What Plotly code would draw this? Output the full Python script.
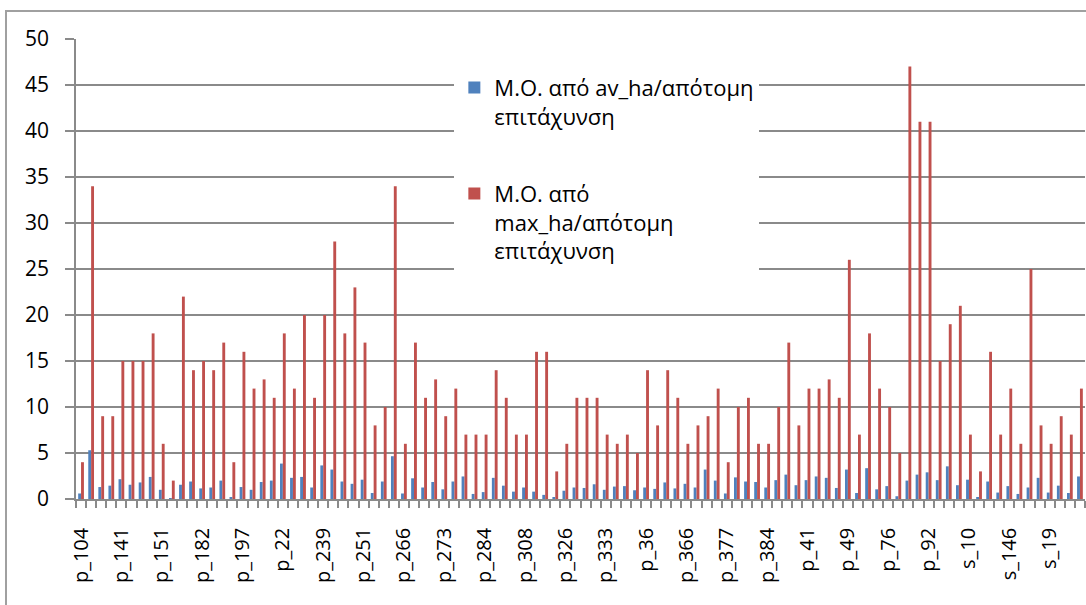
import plotly.graph_objects as go

categories = [
    "p_104", "p_107", "p_11", "p_13",
    "p_141", "p_143", "p_145", "p_148",
    "p_151", "p_155", "p_16", "p_18",
    "p_182", "p_185", "p_19", "p_194",
    "p_197", "p_2", "p_20", "p_21",
    "p_22", "p_224", "p_23", "p_237",
    "p_239", "p_24", "p_245", "p_249",
    "p_251", "p_253", "p_26", "p_262",
    "p_266", "p_268", "p_27", "p_270",
    "p_273", "p_275", "p_279", "p_28",
    "p_284", "p_29", "p_3", "p_30",
    "p_308", "p_31", "p_316", "p_32",
    "p_326", "p_328", "p_33", "p_331",
    "p_333", "p_339", "p_34", "p_35",
    "p_36", "p_360", "p_362", "p_364",
    "p_366", "p_37", "p_372", "p_375",
    "p_377", "p_379", "p_38", "p_382",
    "p_384", "p_39", "p_4", "p_40",
    "p_41", "p_42", "p_45", "p_47",
    "p_49", "p_5", "p_56", "p_6",
    "p_76", "p_8", "p_82", "p_9",
    "p_92", "p_94", "p_95", "p_98",
    "s_10", "s_11", "s_12", "s_14",
    "s_146", "s_15", "s_16", "s_18",
    "s_19", "s_2", "s_3", "s_5",
]

av_ha = [
    0.6, 5.3, 1.3, 1.45, 2.15, 1.55, 1.8, 2.4, 1.0, 0.05,
    1.55, 1.9, 1.15, 1.25, 2.0, 0.15, 1.3, 1.0, 1.85, 2.0,
    3.85, 2.3, 2.4, 1.25, 3.65, 3.2, 1.9, 1.65, 2.1, 0.65,
    1.9, 4.65, 0.6, 2.25, 1.25, 1.85, 1.05, 1.9, 2.45, 0.55,
    0.75, 2.3, 1.45, 0.8, 1.25, 0.8, 0.45, 0.2, 0.9, 1.25,
    1.2, 1.6, 1.0, 1.35, 1.4, 0.95, 1.25, 1.1, 1.8, 1.15,
    1.65, 1.25, 3.2, 2.0, 0.6, 2.35, 1.9, 1.85, 1.25, 2.05,
    2.65, 1.5, 2.05, 2.45, 2.3, 1.2, 3.2, 0.65, 3.35, 1.05,
    1.4, 0.3, 2.0, 2.65, 2.9, 2.05, 3.55, 1.5, 2.1, 0.2,
    1.9, 0.7, 1.4, 0.55, 1.25, 2.3, 0.7, 1.45, 0.65, 2.45,
]

max_ha = [
    4, 34, 9, 9, 15, 15, 15, 18, 6, 2,
    22, 14, 15, 14, 17, 4, 16, 12, 13, 11,
    18, 12, 20, 11, 20, 28, 18, 23, 17, 8,
    10, 34, 6, 17, 11, 13, 9, 12, 7, 7,
    7, 14, 11, 7, 7, 16, 16, 3, 6, 11,
    11, 11, 7, 6, 7, 5, 14, 8, 14, 11,
    6, 8, 9, 12, 4, 10, 11, 6, 6, 10,
    17, 8, 12, 12, 13, 11, 26, 7, 18, 12,
    10, 5, 47, 41, 41, 15, 19, 21, 7, 3,
    16, 7, 12, 6, 25, 8, 6, 9, 7, 12,
]

series_names = [
    "Μ.Ο. από av_ha/απότομη<br>επιτάχυνση",
    "Μ.Ο. από<br>max_ha/απότομη<br>επιτάχυνση",
]
y_ticks = [0, 5, 10, 15, 20, 25, 30, 35, 40, 45, 50]
tick_text = [c if i % 4 == 0 else "" for i, c in enumerate(categories)]

FONT = "Open Sans"
GRID = "#8a8a8a"
FRAME = "#a0a0a0"

fig = go.Figure()
fig.add_bar(x=categories, y=av_ha, name=series_names[0],
            marker=dict(color="#4F81BD", line=dict(width=0)), legendgroup="a")
fig.add_bar(x=categories, y=max_ha, name=series_names[1],
            marker=dict(color="#C0504D", line=dict(width=0)), legendgroup="b")
# empty helper trace so that the full-paper frame subplot (x2/y2) gets drawn
fig.add_scatter(x=[], y=[], xaxis="x2", yaxis="y2", showlegend=False,
                hoverinfo="skip", mode="lines")

# paper = the chart-area frame (starts at 7px, 12px); plot area placed inside
fig.update_layout(
    width=1086, height=605,
    margin=dict(l=7, r=0, t=12, b=0, autoexpand=False),
    paper_bgcolor="white", plot_bgcolor="rgba(0,0,0,0)",
    barmode="group", bargap=0.43, bargroupgap=0,
    font=dict(family=FONT, size=20, color="black"),
    legend=dict(
        x=0.4146, y=0.9079, xanchor="left", yanchor="top",
        bgcolor="white", borderwidth=0, valign="top",
        font=dict(family=FONT, size=22, color="black"),
        tracegroupgap=46, itemwidth=30,
    ),
    showlegend=True,
)

fig.update_layout(
    xaxis=dict(
        automargin=False,
        domain=[0.06395, 0.99907],
        type="category", categoryorder="array", categoryarray=categories,
        tickmode="array", tickvals=categories, ticktext=tick_text,
        tickson="boundaries", ticks="outside", ticklen=7, tickwidth=1.5,
        tickcolor=GRID, tickangle=-90, ticklabelstandoff=19,
        showline=True, linecolor=GRID, linewidth=1.5,
        showgrid=False, tickfont=dict(size=20),
    ),
    yaxis=dict(
        automargin=False,
        domain=[0.17875, 0.95447],
        range=[0, 50], tickmode="array", tickvals=y_ticks,
        showgrid=True, gridcolor=GRID, gridwidth=1.5,
        zeroline=False,
        showline=True, linecolor=GRID, linewidth=1.5,
        ticks="outside", ticklen=9, tickwidth=1.5, tickcolor=GRID,
        ticklabelstandoff=12, tickfont=dict(size=21),
    ),
    # frame axes spanning the whole paper: their lines draw the chart-area border
    xaxis2=dict(domain=[0, 1], anchor="y2", side="top", automargin=False,
                range=[0, 1], showline=True, linecolor=FRAME, linewidth=2,
                showticklabels=False, showgrid=False, zeroline=False,
                ticks="", fixedrange=True),
    yaxis2=dict(domain=[0, 1], anchor="x2", side="left", automargin=False,
                range=[0, 1], showline=True, linecolor=FRAME, linewidth=2,
                showticklabels=False, showgrid=False, zeroline=False,
                ticks="", fixedrange=True),
)

fig.write_html("out.html")
